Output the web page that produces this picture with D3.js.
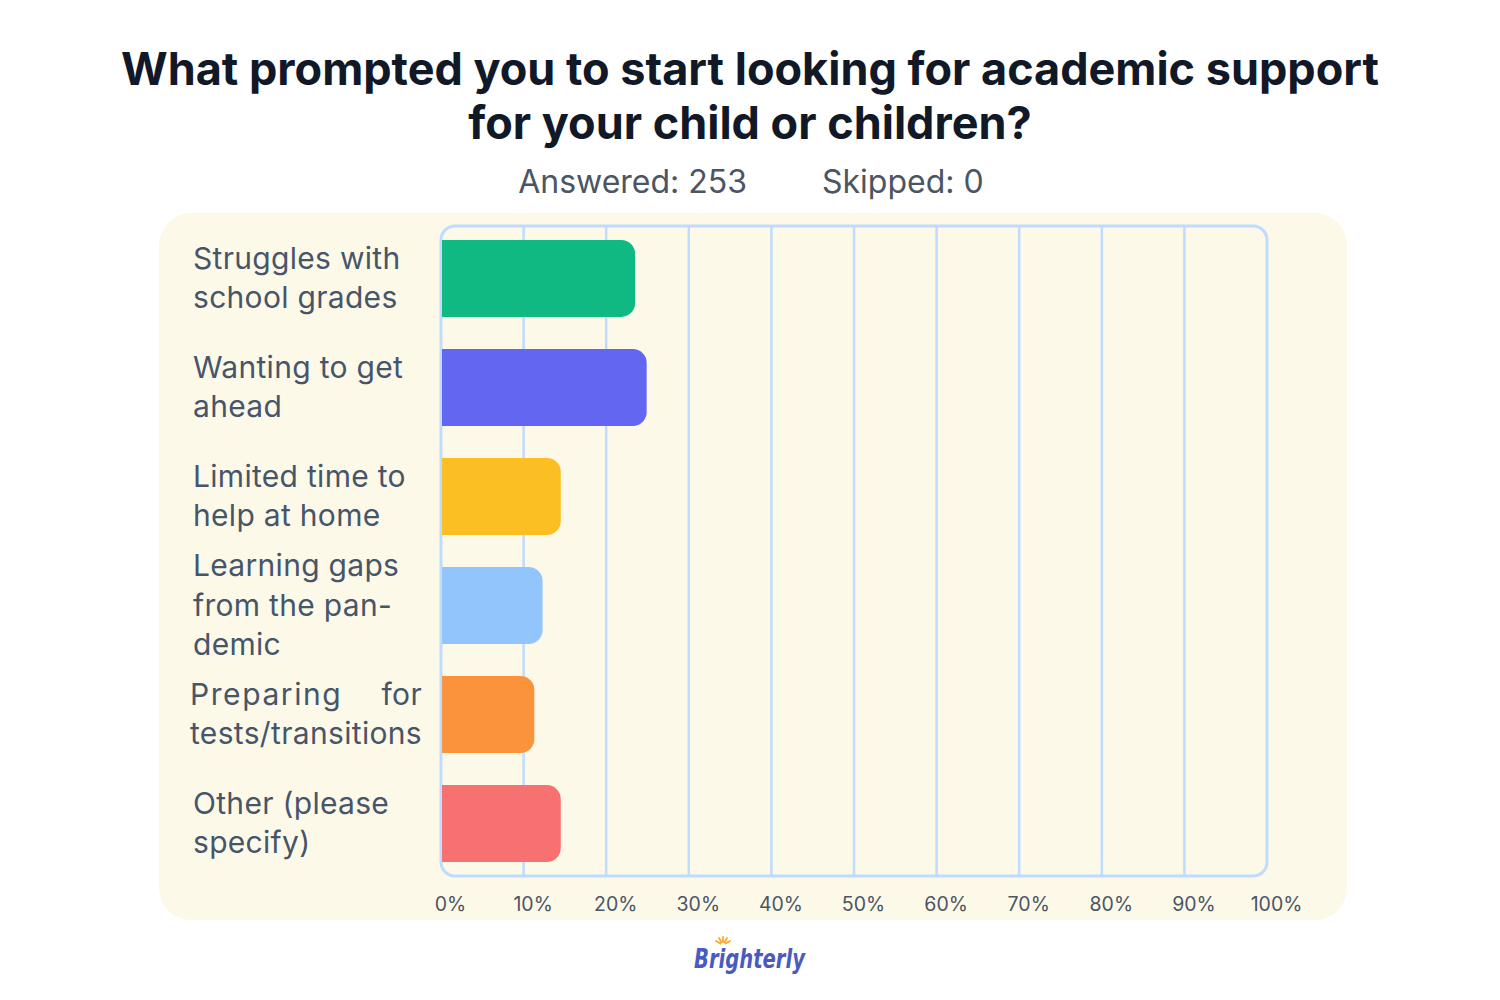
<!DOCTYPE html>
<html><head><meta charset="utf-8">
<script src="https://cdn.jsdelivr.net/npm/d3@7"></script>
<style>body{margin:0;background:#fff;} svg{display:block;}</style>
</head><body><svg id="chart" width="1500" height="1000"></svg>
<script>
// ---- data ----
const categories = ["Struggles with school grades","Wanting to get ahead","Limited time to help at home","Learning gaps from the pandemic","Preparing for tests/transitions","Other (please specify)"];
const labelLines = [["Struggles with","school grades"],["Wanting to get","ahead"],["Limited time to","help at home"],["Learning gaps","from the pan-","demic"],["Preparing for","tests/transitions"],["Other (please","specify)"]];
const values = [23.5, 24.9, 14.5, 12.3, 11.3, 14.5];
const barColors = ["#10b981","#6366f1","#fbbf24","#93c5fd","#fb923c","#f87171"];
const tickValues = [0,10,20,30,40,50,60,70,80,90,100];
const tickLabels = ["0%","10%","20%","30%","40%","50%","60%","70%","80%","90%","100%"];
const titleLines = ["What prompted you to start looking for academic support","for your child or children?"];
const answeredText = "Answered: 253";
const skippedText = "Skipped: 0";
const logoText = "Brighterly";

// ---- layout ----
const svg = d3.select("#chart");
const FONT = "Inter, 'Noto Sans', sans-serif";
const plot = {left:441, right:1267, top:226, bottom:876};

svg.append("rect").attr("x",159).attr("y",213).attr("width",1188).attr("height",707)
  .attr("rx",32).attr("fill","#fdf9e9");

const x = d3.scaleLinear().domain([0,100]).range([plot.left, plot.right]);
const y = d3.scaleBand().domain(categories).range([plot.top, plot.bottom])
  .paddingInner(0.2936).paddingOuter(0.128);

// title
svg.append("g").selectAll("text").data(titleLines).join("text")
  .attr("x",750).attr("y",(d,i)=>85+i*54)
  .attr("text-anchor","middle").attr("font-family",FONT).attr("font-weight",700)
  .attr("font-size",45).attr("fill","#111827").text(d=>d);

svg.append("text").attr("x",747).attr("y",193).attr("text-anchor","end")
  .attr("font-family",FONT).attr("font-size",32).attr("fill","#4b5563").text(answeredText);
svg.append("text").attr("x",822).attr("y",193).attr("text-anchor","start")
  .attr("font-family",FONT).attr("font-size",32).attr("fill","#4b5563").text(skippedText);

// gridlines
svg.append("g").selectAll("line").data(tickValues.slice(1,-1)).join("line")
  .attr("x1",d=>x(d)).attr("x2",d=>x(d)).attr("y1",plot.top).attr("y2",plot.bottom)
  .attr("stroke","#bfdbfe").attr("stroke-width",2.5);

// frame
svg.append("rect").attr("x",plot.left).attr("y",plot.top)
  .attr("width",plot.right-plot.left).attr("height",plot.bottom-plot.top)
  .attr("rx",14).attr("fill","none").attr("stroke","#bfdbfe").attr("stroke-width",3);

// bars
const r = 14;
function barPath(x0,x1,y0,h){
  const rr = Math.min(r, (x1-x0), h/2);
  return `M${x0},${y0}H${x1-rr}A${rr},${rr} 0 0 1 ${x1},${y0+rr}V${y0+h-rr}A${rr},${rr} 0 0 1 ${x1-rr},${y0+h}H${x0}Z`;
}
svg.append("g").selectAll("path").data(categories).join("path")
  .attr("d",(d,i)=>barPath(x(0)+1, x(values[i]), y(d), y.bandwidth()))
  .attr("fill",(d,i)=>barColors[i]);

// category labels
const labG = svg.append("g").attr("font-family",FONT).attr("font-size",30)
  .attr("letter-spacing",0.3).attr("fill","#475569");
categories.forEach((d,i)=>{
  const lines = labelLines[i];
  const cy = y(d)+y.bandwidth()/2;
  const n = lines.length;
  lines.forEach((ln,j)=>{
    const yy = cy + (j-(n-1)/2)*39.5 + 10;
    if(i===4 && j===0){
      // justified line: first word letter-spaced, last word flush right
      const words = ln.split(" ");
      labG.append("text").attr("x",190).attr("y",yy).attr("textLength",151)
        .attr("lengthAdjust","spacing").text(words[0]);
      labG.append("text").attr("x",422).attr("y",yy).attr("text-anchor","end").text(words[1]);
    } else if(i===4){
      labG.append("text").attr("x",190).attr("y",yy).attr("textLength",232)
        .attr("lengthAdjust","spacing").text(ln);
    } else {
      labG.append("text").attr("x",193).attr("y",yy).text(ln);
    }
  });
});

// x axis labels
const axis = d3.axisBottom(x).tickValues(tickValues).tickFormat((d,i)=>tickLabels[i]).tickSize(0).tickPadding(0);
const ag = svg.append("g").attr("transform",`translate(9,${911})`).call(axis);
ag.select(".domain").remove();
ag.selectAll("text").attr("dy",0).attr("font-family",FONT).attr("font-size",19.5).attr("fill","#4b5563");

// logo
const lg = svg.append("g");
lg.append("text").attr("x",694).attr("y",968)
  .attr("font-family","'DejaVu Sans Condensed','DejaVu Sans', sans-serif").attr("font-style","italic").attr("font-weight",700)
  .attr("font-size",27).attr("textLength",111).attr("lengthAdjust","spacingAndGlyphs")
  .attr("fill","#4a5bc0").text(logoText);
const rays = [-60,-30,0,30,60];
lg.append("g").selectAll("line").data(rays).join("line")
  .attr("x1",d=>723+3*Math.sin(d*Math.PI/180)).attr("y1",d=>945-3*Math.cos(d*Math.PI/180))
  .attr("x2",d=>723+8*Math.sin(d*Math.PI/180)).attr("y2",d=>945-8*Math.cos(d*Math.PI/180))
  .attr("stroke","#f9a825").attr("stroke-width",1.8).attr("stroke-linecap","round");
</script></body></html>
